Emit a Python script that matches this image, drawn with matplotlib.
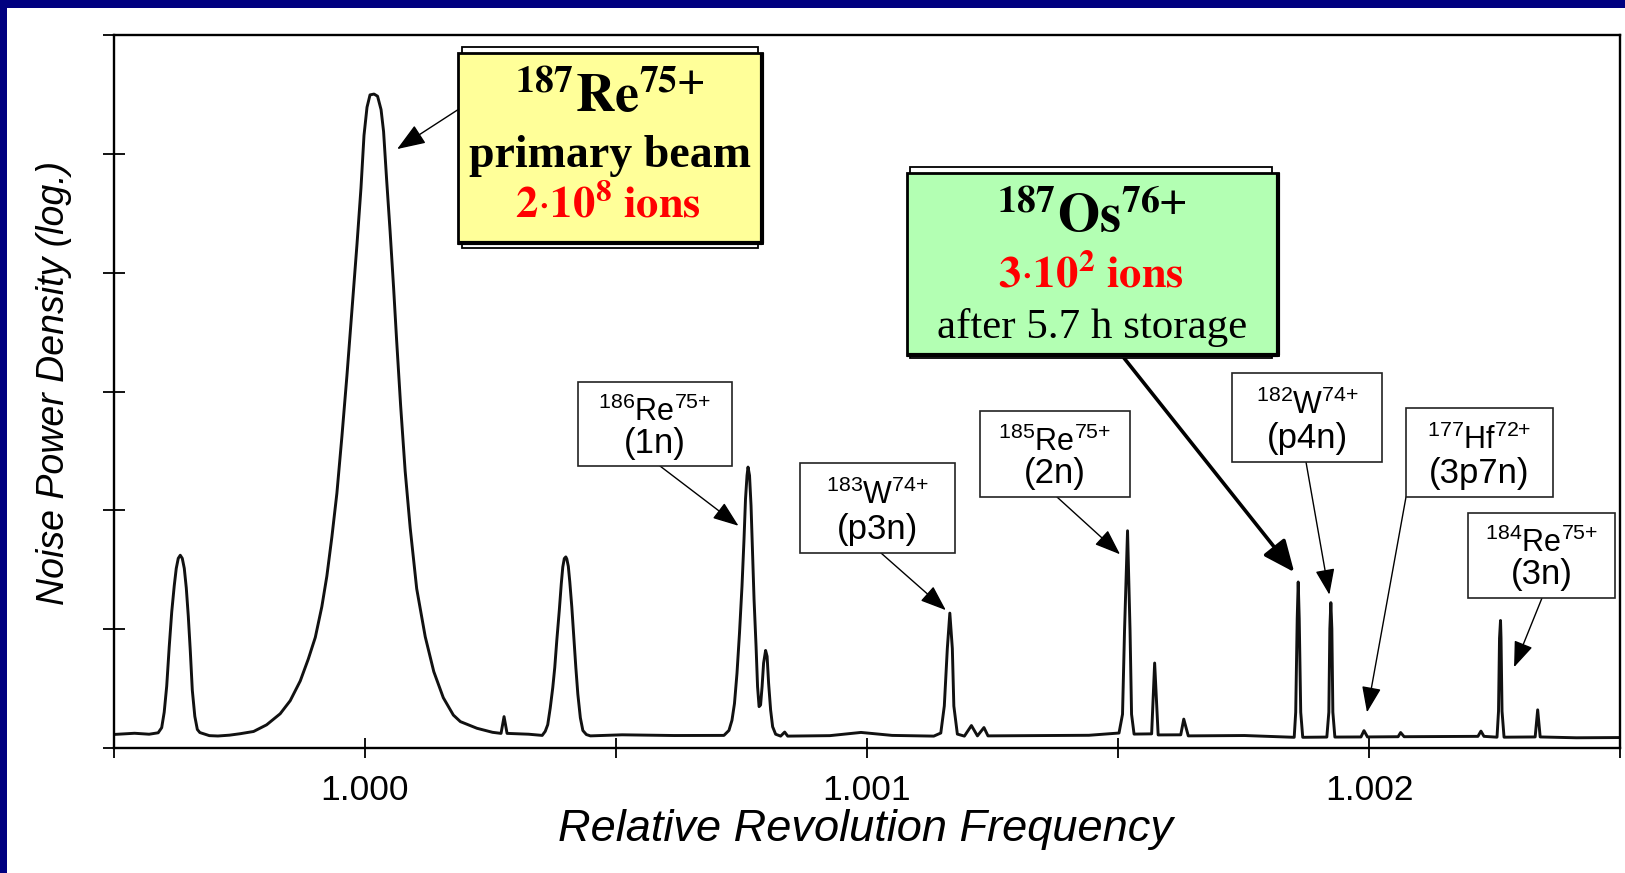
import matplotlib
matplotlib.use('Agg')
import matplotlib.pyplot as plt
from matplotlib.patches import Rectangle
from matplotlib.transforms import Affine2D

# Schottky noise spectrum
# x: relative revolution frequency, y: noise power density in decades above the axis
freq = [
    # baseline + first sideband peak
    0.999500, 0.999541, 0.999570, 0.999588, 0.999595, 0.999600, 0.999605, 0.999610, 0.999615,
    0.999620, 0.999624, 0.999628, 0.999632, 0.999636, 0.999640, 0.999644, 0.999648, 0.999652,
    0.999656, 0.999661, 0.999666, 0.999671, 0.999690, 0.999707, 0.999730,
    # primary beam 187Re75+
    0.999751, 0.999778, 0.999804, 0.999831, 0.999851, 0.999871, 0.999887, 0.999901, 0.999914,
    0.999924, 0.999934, 0.999944, 0.999954, 0.999964, 0.999974, 0.999984, 0.999992, 0.999998,
    1.000004, 1.000010, 1.000018, 1.000025, 1.000032, 1.000037, 1.000043, 1.000050, 1.000057,
    1.000063, 1.000071, 1.000080, 1.000090, 1.000103, 1.000120, 1.000137, 1.000156, 1.000176,
    1.000190, 1.000223, 1.000254,
    # spike + second sideband peak
    1.000271, 1.000277, 1.000283, 1.000326, 1.000353, 1.000359, 1.000364, 1.000369, 1.000374,
    1.000378, 1.000382, 1.000387, 1.000391, 1.000394, 1.000397, 1.000400, 1.000402, 1.000405,
    1.000408, 1.000412, 1.000416, 1.000420, 1.000424, 1.000429, 1.000434, 1.000441, 1.000449,
    1.000512, 1.000616,
    # 186Re75+ doublet
    1.000715, 1.000725, 1.000731, 1.000736, 1.000741, 1.000746, 1.000751, 1.000755, 1.000758,
    1.000761, 1.000763, 1.000766, 1.000769, 1.000772, 1.000775, 1.000779, 1.000782, 1.000785,
    1.000788, 1.000791, 1.000794, 1.000798, 1.000801, 1.000804, 1.000808, 1.000812, 1.000818,
    1.000828, 1.000836, 1.000842,
    # 183W74+, 185Re75+
    1.000926, 1.000988, 1.001050, 1.001133, 1.001147, 1.001154, 1.001160, 1.001165, 1.001170,
    1.001173, 1.001180, 1.001194, 1.001208, 1.001220, 1.001233, 1.001241, 1.001339, 1.001442,
    1.001502, 1.001509, 1.001513, 1.001519, 1.001524, 1.001527, 1.001532, 1.001567, 1.001573,
    1.001580, 1.001625, 1.001631, 1.001640, 1.001752,
    # 187Os76+, 182W74+, 177Hf72+, 184Re75+
    1.001851, 1.001854, 1.001857, 1.001859, 1.001861, 1.001864, 1.001868, 1.001916, 1.001920,
    1.001922, 1.001924, 1.001926, 1.001928, 1.001932, 1.001984, 1.001990, 1.001997, 1.002058,
    1.002063, 1.002070, 1.002165, 1.002217, 1.002223, 1.002229, 1.002255, 1.002258, 1.002260,
    1.002262, 1.002263, 1.002265, 1.002269, 1.002331, 1.002336, 1.002341, 1.002413, 1.002500,
]
power = [
    0.114, 0.124, 0.116, 0.128, 0.171, 0.301, 0.521, 0.851, 1.145,
    1.365, 1.511, 1.596, 1.622, 1.596, 1.512, 1.347, 1.109, 0.816,
    0.486, 0.266, 0.156, 0.130, 0.104, 0.101, 0.108,
    0.120, 0.139, 0.195, 0.288, 0.398, 0.564, 0.748, 0.931, 1.189,
    1.446, 1.775, 2.144, 2.621, 3.133, 3.686, 4.237, 4.713, 5.155,
    5.392, 5.496, 5.503, 5.485, 5.372, 5.188, 4.788, 4.348, 3.871,
    3.431, 2.880, 2.330, 1.853, 1.340, 0.936, 0.643, 0.423, 0.277,
    0.222, 0.166, 0.132,
    0.123, 0.264, 0.123, 0.116, 0.106, 0.140, 0.196, 0.337, 0.507,
    0.677, 0.902, 1.156, 1.382, 1.523, 1.594, 1.608, 1.591, 1.529,
    1.396, 1.185, 0.931, 0.677, 0.452, 0.254, 0.147, 0.113, 0.102,
    0.111, 0.105,
    0.106, 0.148, 0.233, 0.374, 0.628, 0.967, 1.362, 1.757, 2.096,
    2.293, 2.364, 2.293, 2.039, 1.645, 1.250, 0.856, 0.516, 0.348,
    0.362, 0.516, 0.714, 0.821, 0.771, 0.545, 0.320, 0.179, 0.116,
    0.100, 0.134, 0.100,
    0.104, 0.131, 0.106, 0.100, 0.126, 0.354, 0.837, 1.135, 0.837,
    0.353, 0.117, 0.100, 0.189, 0.102, 0.172, 0.102, 0.104, 0.107,
    0.126, 0.284, 0.986, 1.828, 0.986, 0.284, 0.117, 0.119, 0.715,
    0.110, 0.111, 0.243, 0.102, 0.105,
    0.090, 0.301, 1.090, 1.397, 1.090, 0.301, 0.090, 0.092, 0.302,
    1.004, 1.223, 1.004, 0.302, 0.092, 0.093, 0.146, 0.093, 0.095,
    0.130, 0.095, 0.097, 0.098, 0.142, 0.098, 0.091, 0.310, 0.924,
    1.073, 0.924, 0.310, 0.091, 0.093, 0.321, 0.093, 0.086, 0.088,
]

xticks = [0.9995, 1.0000, 1.0005, 1.0010, 1.0015, 1.0020, 1.0025]
xticklabels = ['', '1.000', '', '1.001', '', '1.002', '']
yticks = [0, 1, 2, 3, 4, 5, 6]

# small labelled peaks: isotope, reaction, where the arrow points
ion_labels = [r'$^{186}$Re$^{75{+}}$', r'$^{183}$W$^{74{+}}$', r'$^{185}$Re$^{75{+}}$',
              r'$^{182}$W$^{74{+}}$', r'$^{177}$Hf$^{72{+}}$', r'$^{184}$Re$^{75{+}}$']
reactions = ['(1n)', '(p3n)', '(2n)', '(p4n)', '(3p7n)', '(3n)']
tip_freq = [1.000744, 1.001157, 1.001504, 1.001921, 1.001996, 1.002289]
tip_power = [1.87, 1.16, 1.63, 1.29, 0.30, 0.68]

# primary beam and 187Os arrows
beam_tip = (1.000064, 5.04)
os_tip = (1.001851, 1.48)

plt.rcParams['font.family'] = ['Liberation Sans', 'DejaVu Sans']
plt.rcParams['mathtext.fontset'] = 'custom'
plt.rcParams['mathtext.rm'] = 'Liberation Sans'
plt.rcParams['mathtext.it'] = 'Liberation Sans'
plt.rcParams['mathtext.bf'] = 'Liberation Sans:bold'

W, H = 1625, 873
fig = plt.figure(figsize=(W / 100, H / 100), dpi=100)
# pixel coordinates, origin top-left
pix = Affine2D().scale(1 / W, -1 / H).translate(0, 1) + fig.transFigure

ax = fig.add_axes([114 / W, 1 - 748 / H, (1620 - 114) / W, (748 - 35) / H])
ax.plot(freq, power, color='#111111', lw=2.1, solid_joinstyle='round')
ax.set_xlim(0.9995, 1.0025)
ax.set_ylim(0, 6)
ax.set_xticks(xticks, xticklabels)
ax.set_yticks(yticks)
ax.tick_params(axis='x', direction='inout', length=14, width=1.3, pad=12, labelsize=25.5)
ax.tick_params(axis='y', direction='inout', length=16, width=1.3, labelleft=False)
for sp in ax.spines.values():
    sp.set_linewidth(1.7)

# axis titles placed in pixel coords
fig.text(865, 829, 'Relative Revolution Frequency', transform=pix, ha='center', va='center',
         fontsize=32.5, fontstyle='italic')
fig.text(54, 383, 'Noise Power Density (log.)', transform=pix, ha='center', va='center',
         rotation=90, fontsize=27, fontstyle='italic')

# small boxes (pixel frames: left, top, right, bottom) and arrow tails
frames = [(578, 382, 732, 466), (800, 463, 955, 553), (980, 411, 1130, 497),
          (1232, 373, 1382, 462), (1406, 408, 1553, 497), (1468, 513, 1615, 598)]
tails = [(660, 466), (881, 553), (1057, 497), (1306, 462), (1406, 497), (1542, 598)]

for lab, reac, (x0, y0, x1, y1), tail, tf, tp in zip(ion_labels, reactions, frames, tails,
                                                      tip_freq, tip_power):
    fig.add_artist(Rectangle((x0, y0), x1 - x0, y1 - y0, transform=pix, facecolor='white',
                             edgecolor='#222222', lw=1.2, zorder=3))
    h = y1 - y0
    fig.text((x0 + x1) / 2, y0 + 0.46 * h, lab, transform=pix, ha='center', va='baseline',
             fontsize=22, zorder=4)
    fig.text((x0 + x1) / 2, y0 + 0.84 * h, reac, transform=pix, ha='center', va='baseline',
             fontsize=25, zorder=4)
    ax.annotate('', xy=(tf, tp), xycoords='data', xytext=tail, textcoords=pix,
                arrowprops=dict(arrowstyle='-|>,head_length=0.8,head_width=0.3', color='black',
                                lw=1.0, mutation_scale=20, shrinkA=0, shrinkB=0))


def big_box(front, back, color):
    x0, y0, x1, y1 = back
    fig.add_artist(Rectangle((x0, y0), x1 - x0, y1 - y0, transform=pix, facecolor='white',
                             edgecolor='black', lw=1.3, zorder=3))
    x0, y0, x1, y1 = front
    fig.add_artist(Rectangle((x0, y0), x1 - x0, y1 - y0, transform=pix, facecolor=color,
                             edgecolor='black', lw=2.0, zorder=3))
    # heavier right/bottom edge
    fig.add_artist(plt.Line2D([x0 + 2, x1, x1], [y1, y1, y0 + 2], transform=pix, color='black',
                              lw=3.0, zorder=3))


# primary beam box
big_box((458, 53, 762, 243), (462, 47, 758, 248), '#FFFF99')
fig.text(610, 112, r'$^{\mathbf{187}}\mathbf{Re}^{\mathbf{75{+}}}$', transform=pix, ha='center',
         va='baseline', fontsize=39, math_fontfamily='stix', zorder=4)
fig.text(610, 167, 'primary beam', transform=pix, ha='center', va='baseline', fontsize=33,
         family='Liberation Serif', fontweight='bold', zorder=4)
fig.text(608, 217, r'$\mathbf{2}{\cdot}\mathbf{10}^{\mathbf{8}}\mathbf{\ ions}$', transform=pix,
         ha='center', va='baseline', fontsize=32, color='#FF0000', math_fontfamily='stix', zorder=4)
ax.annotate('', xy=beam_tip, xycoords='data', xytext=(459, 109), textcoords=pix,
            arrowprops=dict(arrowstyle='-|>,head_length=0.8,head_width=0.3', color='black',
                            lw=1.0, mutation_scale=22, shrinkA=0, shrinkB=0))

# 187Os box
big_box((907, 173, 1278, 355), (910, 167, 1272, 358), '#B3FFB3')
fig.text(1092, 232, r'$^{\mathbf{187}}\mathbf{Os}^{\mathbf{76{+}}}$', transform=pix, ha='center',
         va='baseline', fontsize=39, math_fontfamily='stix', zorder=4)
fig.text(1091, 288, r'$\mathbf{3}{\cdot}\mathbf{10}^{\mathbf{2}}\mathbf{\ ions}$', transform=pix,
         ha='center', va='baseline', fontsize=32, color='#FF0000', math_fontfamily='stix', zorder=4)
fig.text(1092, 338, 'after 5.7 h storage', transform=pix, ha='center', va='baseline',
         fontsize=31, family='Liberation Serif', zorder=4)
ax.annotate('', xy=os_tip, xycoords='data', xytext=(1124, 358), textcoords=pix,
            arrowprops=dict(arrowstyle='-|>,head_length=0.8,head_width=0.35', color='black',
                            lw=2.6, mutation_scale=24, shrinkA=0, shrinkB=0))

# navy slide frame (top and left)
fig.add_artist(Rectangle((0, 0), W, 8, transform=pix, facecolor='#000080', edgecolor='none', zorder=5))
fig.add_artist(Rectangle((0, 0), 7, H, transform=pix, facecolor='#000080', edgecolor='none', zorder=5))

fig.savefig('out.png', dpi=100)
